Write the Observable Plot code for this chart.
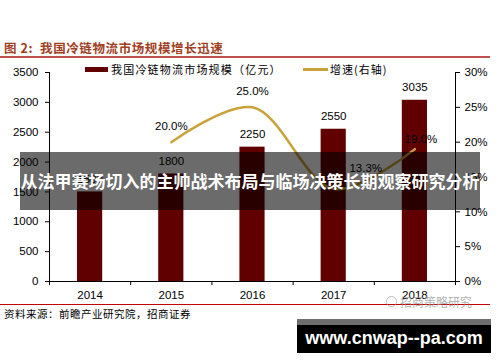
<!DOCTYPE html>
<html>
<head>
<meta charset="utf-8">
<script src="https://cdn.jsdelivr.net/npm/d3@7"></script>
<script src="https://cdn.jsdelivr.net/npm/@observablehq/plot@0.6"></script>
<style>
  html, body { margin: 0; padding: 0; background: #fff; }
  #wrap { position: relative; width: 500px; height: 362px; overflow: hidden; font-family: "Liberation Sans", Arial, sans-serif; }
  #chart { position: absolute; left: 0; top: 0; }
  .abs { position: absolute; white-space: nowrap; }
  .cjk { font-family: "Noto Sans CJK SC", sans-serif; }
</style>
</head>
<body>
<div id="wrap">
  <div id="chart"></div>
  <div class="abs cjk" style="left:4px; top:39px; font-size:12.5px; font-weight:bold; color:#a0401f; line-height:18px; letter-spacing:0.6px;">图 2:&nbsp; 我国冷链物流市场规模增长迅速</div>
  <div class="abs" style="left:0; top:56px; width:490px; height:2px; background:#c0504d;"></div>
  <div class="abs" style="left:85px; top:67px; width:23px; height:5px; background:#600000;"></div>
  <div class="abs cjk" style="left:111px; top:61px; font-size:11px; line-height:16px; color:#000; letter-spacing:1.2px;">我国冷链物流市场规模（亿元）</div>
  <div class="abs" style="left:303px; top:68px; width:25px; height:3px; background:#c9a23a;"></div>
  <div class="abs cjk" style="left:330px; top:61px; font-size:11px; line-height:16px; color:#000; letter-spacing:1px;">增速(右轴)</div>
  <div class="abs" style="left:0; top:304px; width:490px; height:1px; background:#c00000;"></div>
  <div class="abs cjk" style="left:4px; top:306px; font-size:10.5px; line-height:15px; color:#000; letter-spacing:0.5px;">资料来源：前瞻产业研究院，招商证券</div>
  <div class="abs" style="left:386px; top:296px; width:9px; height:9px; border:1px solid rgba(150,150,150,0.6); border-radius:50%;"></div>
  <div class="abs cjk" style="left:400px; top:294px; font-size:12px; line-height:16px; color:rgba(150,150,150,0.75);">招商策略研究</div>
  <div class="abs" style="left:20px; top:152px; width:460px; height:58px; background:rgba(0,0,0,0.58);"></div>
  <div class="abs cjk" style="left:20px; top:152px; width:460px; height:58px; line-height:58px; text-align:center; font-size:17px; font-weight:bold; color:#fff;">从法甲赛场切入的主帅战术布局与临场决策长期观察研究分析</div>
  <div class="abs" style="left:297px; top:319px; width:194px; height:6px; background:#6e6e6e;"></div>
  <div class="abs" style="left:297px; top:325px; width:194px; height:28px; background:#000;"></div>
  <div class="abs" style="left:297px; top:325px; width:194px; height:28px; line-height:26px; text-align:center; font-size:18px; font-weight:bold; color:#fff; font-family:'Liberation Sans', Arial, sans-serif;">www.cnwap--pa.com</div>
</div>
<script>
const years = [2014, 2015, 2016, 2017, 2018];
const marketSize = [1500, 1800, 2250, 2550, 3035];
const growthYears = [2015, 2016, 2017, 2018];
const growthPct = [20.0, 25.0, 13.3, 19.0];
const leftTicks = [0, 500, 1000, 1500, 2000, 2500, 3000, 3500];
const rightTicks = [0, 5, 10, 15, 20, 25, 30];

const k = 3500 / 30;
const sizes = years.map((y, i) => ({year: y, value: marketSize[i]}));
const growth = growthYears.map((y, i) => ({year: y, pct: growthPct[i], v: growthPct[i] * k}));
const bounds = [years[0] - 0.5, ...years.map(y => y + 0.5)];
const halfW = 0.155;

const chart = Plot.plot({
  width: 500,
  height: 362,
  marginLeft: 49,
  marginRight: 45,
  marginTop: 72,
  marginBottom: 81,
  style: {fontFamily: "Liberation Sans, Arial, sans-serif", fontSize: "11.5px", color: "#000", background: "transparent"},
  x: {type: "linear", domain: [bounds[0], bounds[bounds.length - 1]], axis: null},
  y: {domain: [0, 3500], axis: null},
  marks: [
    Plot.rectY(sizes, {x1: d => d.year - halfW, x2: d => d.year + halfW, y: "value", fill: "#600000"}),
    Plot.line(growth, {x: "year", y: "v", curve: "catmull-rom", stroke: "#c9a23a", strokeWidth: 2.5}),
    Plot.ruleX([bounds[0], bounds[bounds.length - 1]], {stroke: "#000", strokeWidth: 1}),
    Plot.ruleY([0], {stroke: "#000", strokeWidth: 1}),
    Plot.axisY(leftTicks, {anchor: "left", tickSize: 4, tickPadding: 7, label: null, tickFormat: d => String(d)}),
    Plot.axisY(rightTicks.map(p => p * k), {anchor: "right", tickSize: 4, tickPadding: 5, label: null, tickFormat: d => Math.round(d / k) + "%"}),
    Plot.axisX(bounds, {anchor: "bottom", tickSize: 4, label: null, tickFormat: () => ""}),
    Plot.axisX(years, {anchor: "bottom", tickSize: 0, tickPadding: 9, label: null, tickFormat: d => String(d)}),
    Plot.text(sizes, {x: "year", y: "value", text: d => String(d.value), dy: -13, fill: "#000"}),
    Plot.text(growth.filter(d => d.year <= 2016), {x: "year", y: "v", text: d => d.pct.toFixed(1) + "%", dy: -16, fill: "#000"}),
    Plot.text(growth.filter(d => d.year === 2017), {x: "year", y: "v", text: d => d.pct.toFixed(1) + "%", dx: 32, dy: -21, fill: "#000"}),
    Plot.text(growth.filter(d => d.year === 2018), {x: "year", y: "v", text: d => d.pct.toFixed(1) + "%", dx: 6, dy: -10, fill: "#000"})
  ]
});
document.getElementById("chart").appendChild(chart);
</script>
</body>
</html>
